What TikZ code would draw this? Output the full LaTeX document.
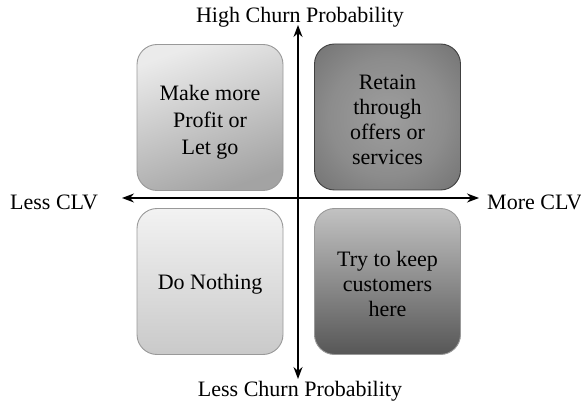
\documentclass[tikz,border=0pt]{standalone}
\usepackage{fontspec}
\setmainfont{Liberation Serif}
\usetikzlibrary{arrows.meta}
% soft radial fill that darkens gradually out to the corners
\pgfdeclareradialshading{softglow}{\pgfpoint{0bp}{0bp}}{%
  color(0bp)=(black!38); color(20bp)=(black!45); color(50bp)=(black!64); color(72bp)=(black!68)}
\begin{document}
\begin{tikzpicture}[x=1pt,y=-1pt,
  quad/.style={draw=black!40, line width=0.9pt, rounded corners=20pt,
    minimum width=146pt, minimum height=146pt, inner sep=0pt},
  boxtext/.style={inner sep=0pt, align=center, font=\fontsize{22}{27}\selectfont},
  axislabel/.style={inner sep=0pt, font=\fontsize{22}{26}\selectfont},
  axis/.style={line width=1.4pt, -{Stealth[length=12pt,width=9pt]}}]
  \useasboundingbox (0,0) rectangle (581,403);

  % quadrant boxes
  \node[quad, shading=axis, top color=black!8, bottom color=black!36, shading angle=20]
    (tl) at (210,117.5) {};
  \node[quad, draw=black!75, shading=softglow]
    (tr) at (387.5,117) {};
  \node[quad, top color=black!5, bottom color=black!21]
    (bl) at (210,281.5) {};
  \node[quad, top color=black!24, bottom color=black!66]
    (br) at (387.5,281.5) {};

  % quadrant texts
  \node[boxtext] (tlt) at ([yshift=-5pt]tl.center) {Make more\\Profit or\\Let go};
  \node[boxtext, font=\fontsize{22}{25}\selectfont] (trt) at ([yshift=-3pt]tr.center)
    {Retain\\through\\offers or\\services};
  \node[boxtext] (blt) at ([yshift=-3pt]bl.center) {Do Nothing};
  \node[boxtext, font=\fontsize{22}{25}\selectfont] (brt) at ([yshift=-2.5pt]br.center)
    {Try to keep\\customers\\here};

  % axis ends
  \coordinate (c) at (298,198);
  \coordinate (up) at (298,25);
  \coordinate (down) at (298,379);
  \coordinate (lft) at (122,198);
  \coordinate (rgt) at (479,198);

  \draw[axis] (c) -- (up);
  \draw[axis] (c) -- (down);
  \draw[axis] (c) -- (lft);
  \draw[axis] (c) -- (rgt);

  % axis labels
  \node[axislabel] (hi) at (300,17) {High Churn Probability};
  \node[axislabel] (lo) at (300,391) {Less Churn Probability};
  \node[axislabel, anchor=west] (lc) at (10,202) {Less CLV};
  \node[axislabel, anchor=west] (mc) at (487,202) {More CLV};
\end{tikzpicture}
\end{document}
